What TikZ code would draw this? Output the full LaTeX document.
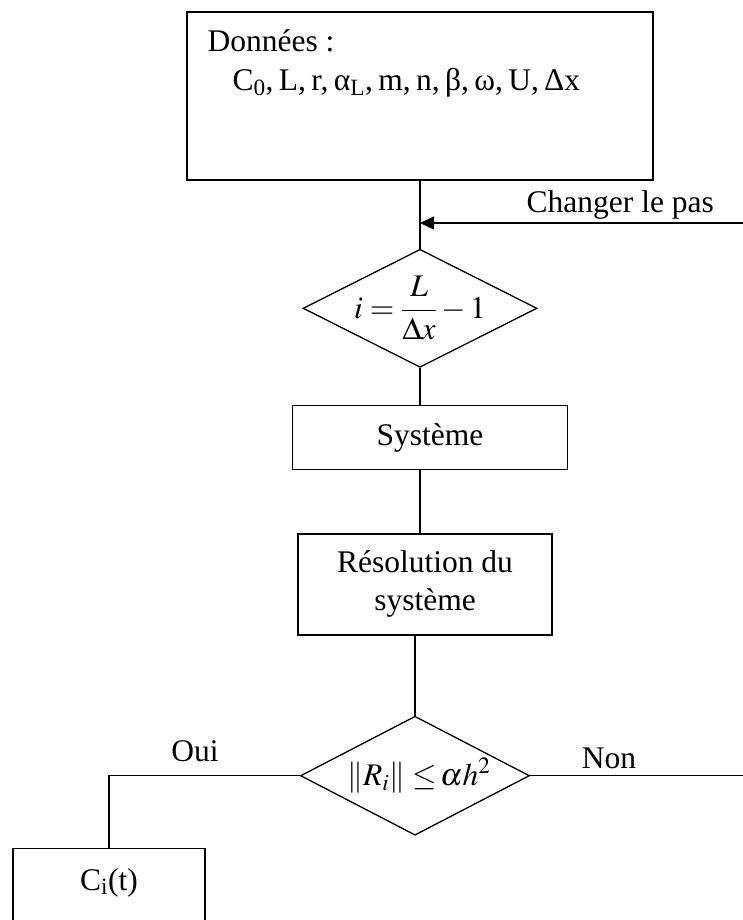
\documentclass[tikz,border=0pt]{standalone}
\usepackage{mathptmx}
\usepackage{fontspec}
\setmainfont{Liberation Serif}
\usetikzlibrary{positioning,shapes.geometric,arrows.meta,calc}

\tikzset{
  boite/.style={draw, line width=1.3pt, inner sep=0pt},
  losange/.style={draw, diamond, inner sep=0pt, line width=1.3pt},
  lien/.style={line width=1.3pt},
  fleche/.style={line width=1.3pt, -{Triangle[length=14pt,width=13pt]}}
}

\begin{document}
\begin{tikzpicture}[x=1pt, y=-1pt, font=\fontsize{31.5}{38}\selectfont]
    \useasboundingbox (0,0) rectangle (743,920);
    \clip (0,0) rectangle (743,920);

    % Data box
    \node (donnees) [boite, minimum width=466pt, minimum height=168pt] at (420,96) {};
    \node (titre) [anchor=base west, inner sep=0pt] at ($(donnees.north west)+(21,40)$) {Données :};
    \node (params) [anchor=base west, inner sep=0pt] at ($(donnees.north west)+(46,79)$) {\spaceskip=0.17em C\textsubscript{0}, L, r, α\textsubscript{L}, m, n, β, ω, U, Δx};

    % Main column
    \node (taille) [losange, minimum width=234pt, minimum height=118pt, below=68pt of donnees] {};
    \node (formule) [inner sep=0pt] at (taille.center) {$\displaystyle i = \frac{L}{\Delta x} - 1$};
    \node (systeme) [boite, minimum width=275pt, minimum height=64pt, below=37pt of taille, xshift=10pt] {Système};
    \node (resolution) [boite, minimum width=254pt, minimum height=101pt, align=center, below=63pt of systeme, xshift=-5pt] {Résolution du\\système};
    \node (critere) [losange, minimum width=229pt, minimum height=119pt, below=80pt of resolution, xshift=-10pt] {};
    \node (test) [inner sep=0pt] at ($(critere.center)+(4,0)$) {$\left\| R_i \right\|\,{\leq}\,\alpha h^{2}$};

    % Result box, cut by the page edge
    \node (resultat) [boite, minimum width=192pt, minimum height=110pt, anchor=north] at (109,848) {};
    \node (ci) [anchor=base, inner sep=0pt] at ($(resultat.north)+(0,42)$) {C\textsubscript{i}(t)};

    \coordinate (pas) at (743,223);
    \coordinate (nonfin) at (743,770);

    % Connectors
    \draw[lien] (donnees.south) -- (taille.north);
    \draw[fleche] (pas) -- node[above, pos=0.38] {Changer le pas} (pas -| donnees.south);
    \draw[lien] (taille.south) -- (taille.south |- systeme.north);
    \draw[lien] (systeme.south -| taille.south) -- (resolution.north -| taille.south);
    \draw[lien] (resolution.south -| critere.north) -- (critere.north);
    \draw[lien] (critere.east) -- node[above=3pt, pos=0.37] {Non} (critere.east -| nonfin);
    \draw[lien] (critere.west) -- node[above=10pt, pos=0.55] {Oui} (critere.west -| resultat.north) -- (resultat.north);
\end{tikzpicture}
\end{document}
